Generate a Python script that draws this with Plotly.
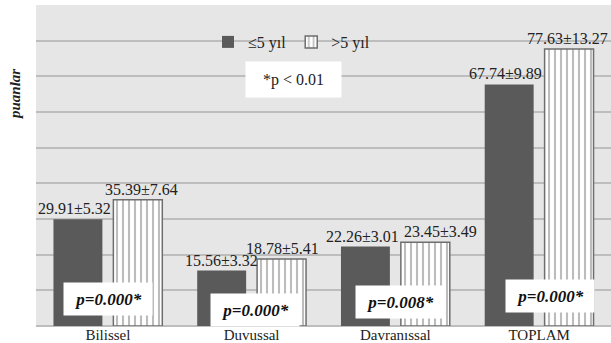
import plotly.graph_objects as go

categories = ["Bilissel", "Duvussal", "Davranıssal", "TOPLAM"]
le5_values = [29.91, 15.56, 22.26, 67.74]
le5_sd = [5.32, 3.32, 3.01, 9.89]
gt5_values = [35.39, 18.78, 23.45, 77.63]
gt5_sd = [7.64, 5.41, 3.49, 13.27]
p_labels = ["p=0.000*", "p=0.000*", "p=0.008*", "p=0.000*"]
p_box_x = [0.003, 1.024, 2.035, 3.073]
p_box_y = [7.7, 4.6, 6.7, 8.55]
# label nudges (pixels) relative to bar centre
le5_nudge = [-3, 0, -3, -4]
gt5_nudge = [4, 1, 15, -2]

SERIF = "Liberation Serif, Times New Roman, serif"

le5_text = [f"{v:.2f}±{s:.2f}" for v, s in zip(le5_values, le5_sd)]
gt5_text = [f"{v:.2f}±{s:.2f}" for v, s in zip(gt5_values, gt5_sd)]

fig = go.Figure()
fig.add_trace(go.Bar(
    x=categories, y=le5_values, name="≤5 yıl",
    marker=dict(color="#5a5a5a", line=dict(width=0)),
))
fig.add_trace(go.Bar(
    x=categories, y=gt5_values, name=">5 yıl",
    marker=dict(color="white", line=dict(color="#6e6e6e", width=1.5),
                pattern=dict(shape="|", fgcolor="#7a7a7a", bgcolor="white", size=6, solidity=0.35)),
))

annotations = []
for i, (v, t, n) in enumerate(zip(le5_values, le5_text, le5_nudge)):
    annotations.append(dict(x=categories[i], y=v, xref="x", yref="y", text=t, showarrow=False,
                            xshift=-30 + n, yshift=0, yanchor="bottom", xanchor="center",
                            font=dict(family=SERIF, size=16, color="#222222")))
for i, (v, t, n) in enumerate(zip(gt5_values, gt5_text, gt5_nudge)):
    annotations.append(dict(x=categories[i], y=v, xref="x", yref="y", text=t, showarrow=False,
                            xshift=30 + n, yshift=0, yanchor="bottom", xanchor="center",
                            font=dict(family=SERIF, size=16, color="#222222")))
for x, y, t in zip(p_box_x, p_box_y, p_labels):
    annotations.append(dict(
        x=x, y=y, xref="x", yref="y", text=f"<b><i>{t}</i></b>", showarrow=False,
        font=dict(family=SERIF, size=17, color="#111111"),
        bgcolor="white", width=86, height=30, xanchor="center", yanchor="middle",
    ))
annotations.append(dict(
    x=(293.5 - 36) / 575, y=(326 - 79.5) / 321, xref="paper", yref="paper",
    text="*p < 0.01", showarrow=False, font=dict(family=SERIF, size=16, color="#222222"),
    bgcolor="white", width=93, height=33, xanchor="center", yanchor="middle",
))
annotations.append(dict(
    x=-21 / 575, y=(326 - 95) / 321, xref="paper", yref="paper",
    text="<i><b>puanlar</b></i>", textangle=-90, showarrow=False,
    font=dict(family=SERIF, size=15, color="#222222"),
    xanchor="center", yanchor="middle",
))

fig.update_layout(
    width=611, height=343,
    margin=dict(l=36, r=0, t=5, b=17, autoexpand=False),
    paper_bgcolor="white", plot_bgcolor="#e6e6e6",
    barmode="group", bargap=0.1667, bargroupgap=0.183,
    showlegend=True,
    legend=dict(orientation="h", x=(208 - 36) / 575, y=(326 - 42) / 321,
                xanchor="left", yanchor="middle", bgcolor="rgba(0,0,0,0)",
                font=dict(family=SERIF, size=16, color="#222222"),
                itemwidth=30, tracegroupgap=0),
    annotations=annotations,
    font=dict(family=SERIF, size=16, color="#222222"),
)
fig.update_xaxes(showgrid=False, ticks="", showline=False, ticklen=0,
                 ticklabelstandoff=-2,
                 tickfont=dict(family=SERIF, size=15, color="#222222"))
fig.update_yaxes(range=[0, 90], dtick=10, showticklabels=False, showgrid=True,
                 gridcolor="#bdbdbd", gridwidth=1.5, zeroline=True, zerolinecolor="#bdbdbd",
                 zerolinewidth=1.5, ticks="")

fig.write_html("out.html", config={"displayModeBar": False},
               post_script="document.body.style.margin='0';")
